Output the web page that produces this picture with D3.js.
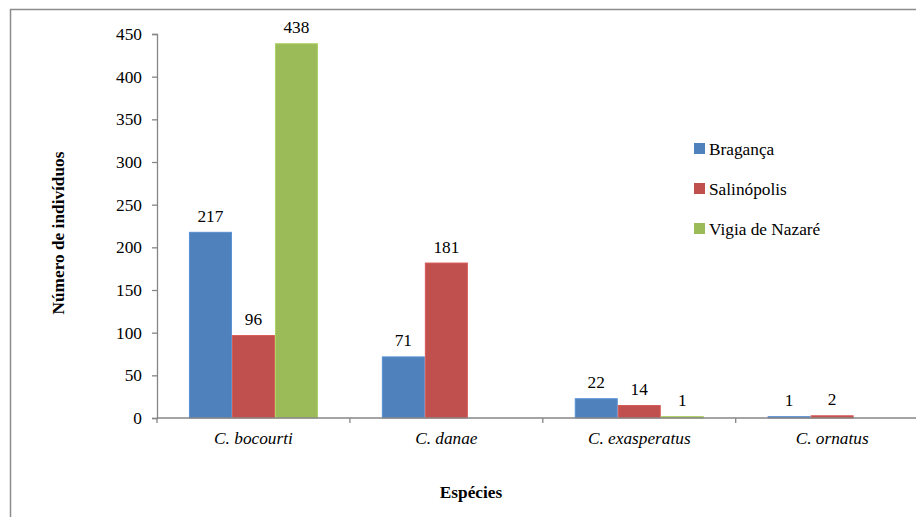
<!DOCTYPE html>
<html>
<head>
<meta charset="utf-8">
<script src="https://cdn.jsdelivr.net/npm/d3@7/dist/d3.min.js"></script>
<style>
  html, body { margin: 0; padding: 0; background: #fff; }
  svg { display: block; }
</style>
</head>
<body>
<svg id="chart" width="916" height="517" font-family="Liberation Serif"></svg>
<script>
// Species counted at each locality
const species = ["C. bocourti", "C. danae", "C. exasperatus", "C. ornatus"];
const localities = ["Bragança", "Salinópolis", "Vigia de Nazaré"];
const braganca = [217, 71, 22, 1];
const salinopolis = [96, 181, 14, 2];
const vigia = [438, null, 1, null];
const yTicks = [0, 50, 100, 150, 200, 250, 300, 350, 400, 450];
const colors = ["#4F81BD", "#C0504D", "#9BBB59"];

const seriesValues = [braganca, salinopolis, vigia];
const FONT = "Liberation Serif";
const FS = 17.3;

const svg = d3.select("#chart");

// outer frame
svg.append("rect")
  .attr("x", 10.5).attr("y", 9.5)
  .attr("width", 930).attr("height", 540)
  .attr("fill", "none").attr("stroke", "#8c8c8c").attr("stroke-width", 1.5);

const plotLeft = 157, plotTop = 34, plotBottom = 418;
const bandW = 192.9;
const plotRight = plotLeft + bandW * species.length;

const y = d3.scaleLinear().domain([0, 450]).range([plotBottom, plotTop]);
const x0 = d3.scaleBand().domain(species).range([plotLeft, plotRight]).paddingInner(0).paddingOuter(0);
const groupW = 129;
const x1 = d3.scaleBand().domain(localities).range([0, groupW]).padding(0);

// y axis
const yAxis = svg.append("g")
  .attr("transform", `translate(${plotLeft},0)`)
  .call(d3.axisLeft(y).tickValues(yTicks).tickSize(5).tickPadding(10).tickFormat(d3.format("d")))
  .attr("font-family", FONT).attr("font-size", FS);
yAxis.select(".domain").attr("stroke", "#868686").attr("stroke-width", 1.3);
yAxis.selectAll(".tick line").attr("stroke", "#868686").attr("stroke-width", 1.3);
yAxis.selectAll(".tick text")
  .attr("font-family", FONT)
  .attr("font-size", FS).attr("fill", "#000");

// bars
const groups = svg.append("g").selectAll("g")
  .data(species)
  .join("g")
  .attr("transform", d => `translate(${x0(d) + (x0.bandwidth() - groupW) / 2},0)`);

groups.each(function(sp, i) {
  const g = d3.select(this);
  const rows = localities.map((loc, k) => ({ loc, k, v: seriesValues[k][i] }))
    .filter(r => r.v !== null);
  g.selectAll("rect")
    .data(rows)
    .join("rect")
    .attr("x", r => x1(r.loc) + 0.5)
    .attr("width", x1.bandwidth() - 1)
    .attr("y", r => y(r.v) - 0.5)
    .attr("height", r => Math.max(0, y(0) - y(r.v)) + 0.5)
    .attr("fill", r => colors[r.k])
    .attr("stroke", r => d3.color(colors[r.k]).brighter(0.3))
    .attr("stroke-width", 1);
  g.selectAll("text")
    .data(rows)
    .join("text")
    .attr("x", r => x1(r.loc) + x1.bandwidth() / 2)
    .attr("y", r => y(r.v) - 11)
    .attr("text-anchor", "middle")
    .attr("font-family", FONT)
    .attr("font-size", FS)
    .text(r => r.v);
});

// x axis
const xAxis = svg.append("g")
  .attr("transform", `translate(0,${plotBottom})`);
xAxis.append("line")
  .attr("x1", plotLeft).attr("x2", plotRight)
  .attr("stroke", "#868686").attr("stroke-width", 1.3);
xAxis.selectAll("line.tk")
  .data(d3.range(species.length + 1))
  .join("line").attr("class", "tk")
  .attr("x1", i => plotLeft + i * x0.step()).attr("x2", i => plotLeft + i * x0.step())
  .attr("y1", 0).attr("y2", 5)
  .attr("stroke", "#868686").attr("stroke-width", 1.3);
xAxis.selectAll("text")
  .data(species)
  .join("text")
  .attr("x", d => x0(d) + x0.bandwidth() / 2)
  .attr("y", 26)
  .attr("text-anchor", "middle")
  .attr("font-family", FONT)
  .attr("font-size", FS).attr("font-style", "italic")
  .text(d => d);

// axis titles
svg.append("text")
  .attr("transform", `translate(64,233) rotate(-90)`)
  .attr("text-anchor", "middle")
  .attr("font-family", FONT)
  .attr("font-size", FS).attr("font-weight", "bold")
  .text("Número de indivíduos");

svg.append("text")
  .attr("x", 471).attr("y", 498)
  .attr("text-anchor", "middle")
  .attr("font-family", FONT)
  .attr("font-size", FS).attr("font-weight", "bold")
  .text("Espécies");

// legend
const legend = svg.append("g").selectAll("g")
  .data(localities)
  .join("g")
  .attr("transform", (d, i) => `translate(694,${143 + i * 40})`);
legend.append("rect")
  .attr("width", 11).attr("height", 11)
  .attr("fill", (d, i) => colors[i]);
legend.append("text")
  .attr("x", 15).attr("y", 12)
  .attr("font-family", FONT)
  .attr("font-size", FS)
  .text(d => d);
</script>
</body>
</html>
